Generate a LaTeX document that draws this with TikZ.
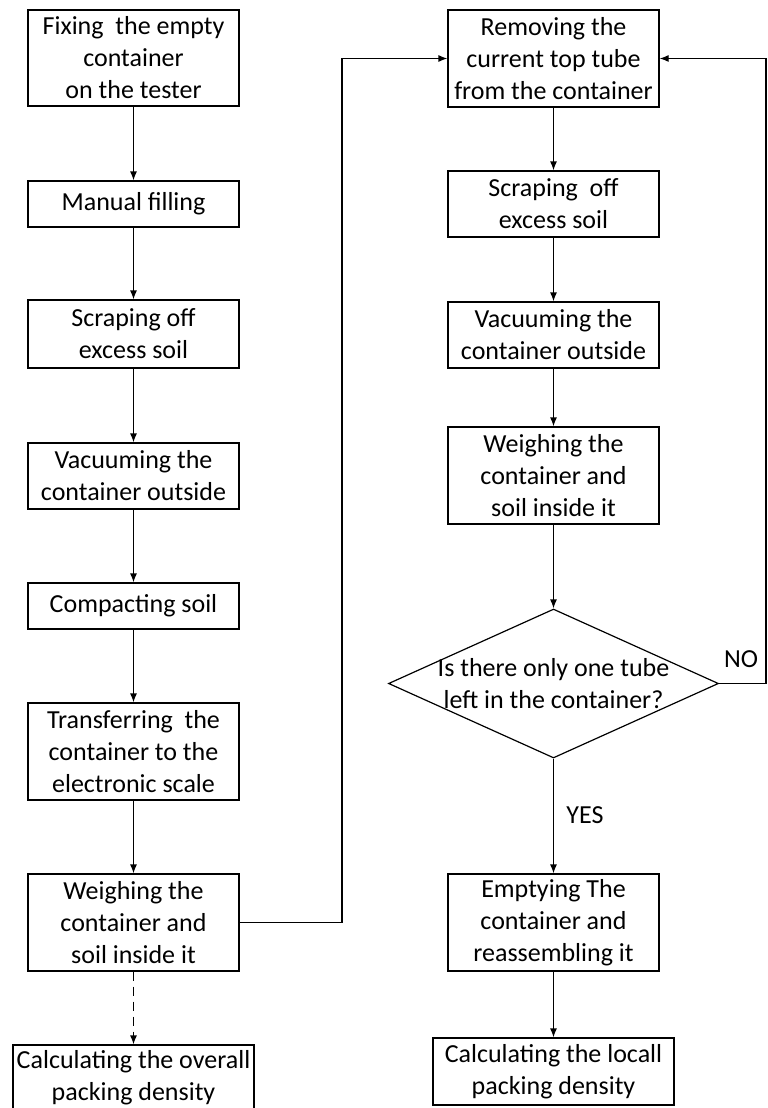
\documentclass[tikz,border=0pt]{standalone}
\usepackage{fontspec}
\setmainfont{Carlito}
\usetikzlibrary{arrows.meta,shapes.geometric}

\begin{document}
\begin{tikzpicture}[x=1pt,y=-1pt]
\tikzset{
    stepbox/.style={rectangle,draw,line width=1.2pt,minimum width=211pt,align=center,inner sep=0pt,font=\fontsize{26}{32}\selectfont},
    decision/.style={diamond,draw,line width=1.2pt,minimum width=330pt,minimum height=149pt,inner sep=0pt},
    tag/.style={font=\fontsize{26}{32}\selectfont},
    edge/.style={->,>={Latex[length=9pt,width=7pt]},line width=1.2pt}
}
\useasboundingbox (0,0) rectangle (768,1108);
  % left column
\node[stepbox, minimum height=96pt] (L1) at (133.5,58) {Fixing\ \ the empty\\container\\on the tester};
\node[stepbox, minimum height=46pt] (L2) at (133.5,204) {Manual filling};
\node[stepbox, minimum height=68pt] (L3) at (133.5,334) {Scraping off\\excess soil};
\node[stepbox, minimum height=66pt] (L4) at (133.5,476) {Vacuuming the\\container outside};
\node[stepbox, minimum height=46pt] (L5) at (133.5,606) {Compacting soil};
\node[stepbox, minimum height=97pt] (L6) at (133.5,751.5) {Transferring\ \ the\\container to the\\electronic scale};
\node[stepbox, minimum height=97pt] (L7) at (133.5,922.5) {Weighing the\\container and\\soil inside it};
\node[stepbox, minimum width=241pt, minimum height=66pt] (L8) at (133.5,1078) {Calculating the overall\\packing density};
  % right column
\node[stepbox, minimum height=97pt] (R1) at (553.5,58.5) {Removing the\\current top tube\\from the container};
\node[stepbox, minimum height=66pt] (R2) at (553.5,204) {Scraping\ \ off\\excess soil};
\node[stepbox, minimum height=66pt] (R3) at (553.5,335) {Vacuuming the\\container outside};
\node[stepbox, minimum height=97pt] (R4) at (553.5,475.5) {Weighing the\\container and\\soil inside it};
\node[decision] (Q) at (553.5,683.5) {};
\node[tag, align=center] (Qtext) at (Q.center) {Is there only one tube\\left in the container?};
\node[stepbox, minimum height=97pt] (R5) at (553.5,922.5) {Emptying The\\container and\\reassembling it};
\node[stepbox, minimum width=241pt, minimum height=67pt] (R6) at (553.5,1071.5) {Calculating the locall\\packing density};
  % labels
\node[tag] (no) at (741,659) {NO};
\node[tag] (yes) at (585,815) {YES};
  % corners
\coordinate (upA) at (342,58.5);
\coordinate (upB) at (766,58.5);
  % edges
\draw[edge] (L1) -- (L2);
\draw[edge] (L2) -- (L3);
\draw[edge] (L3) -- (L4);
\draw[edge] (L4) -- (L5);
\draw[edge] (L5) -- (L6);
\draw[edge] (L6) -- (L7);
\draw[edge, dash pattern=on 9pt off 6pt] (L7) -- (L8);
\draw[edge] (L7.east) -| (upA) -- (R1.west);
\draw[edge] (R1) -- (R2);
\draw[edge] (R2) -- (R3);
\draw[edge] (R3) -- (R4);
\draw[edge] (R4) -- (Q);
\draw[edge] (Q.east) -| (upB) -- (R1.east);
\draw[edge] (Q) -- (R5);
\draw[edge] (R5) -- (R6);
\end{tikzpicture}
\end{document}
